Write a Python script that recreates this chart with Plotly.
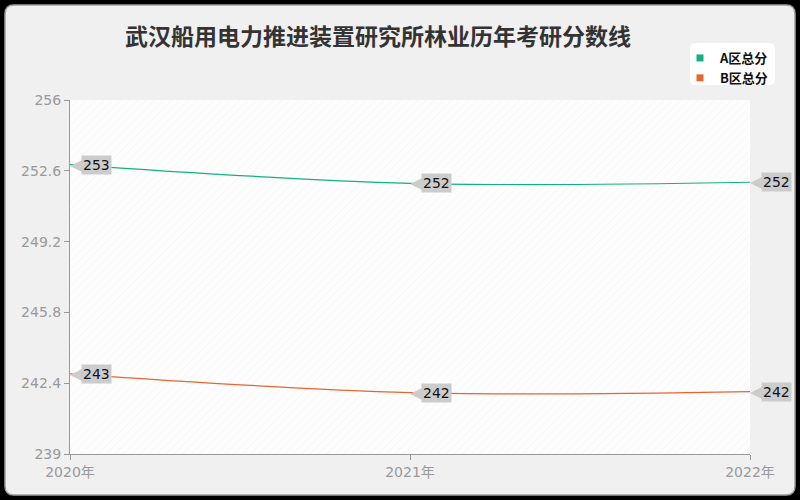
#!/usr/bin/env python3
# -*- coding: utf-8 -*-

import plotly.graph_objects as go

# ---------- data ----------
years = [2020, 2021, 2022]
year_labels = ["2020年", "2021年", "2022年"]
score_a = [252.9, 252.0, 252.05]
score_b = [242.85, 241.95, 242.0]
labels_a = ["253", "252", "252"]
labels_b = ["243", "242", "242"]
y_ticks = [239, 242.4, 245.8, 249.2, 252.6, 256]
y_tick_text = ["239", "242.4", "245.8", "249.2", "252.6", "256"]

title = "武汉船用电力推进装置研究所林业历年考研分数线"
name_a = "A区总分"
name_b = "B区总分"
color_a = "#13b083"
color_b = "#e5662e"

FONT = "Noto Sans CJK SC, Noto Sans, sans-serif"
TICK_FONT = "DejaVu Sans, Noto Sans CJK SC, sans-serif"
W, H = 800, 500
ML, MR, MT, MB = 70, 50, 100, 46
PW, PH = W - ML - MR, H - MT - MB
TAG = "#cccccc"


def px_x(p):
    return (p - ML) / PW


def px_y(p):
    return (H - MB - p) / PH


def rounded_rect(x0, y0, x1, y1, r):
    # pixel coords -> paper path with rounded corners
    rx, ry = r / PW, r / PH
    a, b, c, d = px_x(x0), px_y(y0), px_x(x1), px_y(y1)
    return (
        f"M{a + rx},{b} L{c - rx},{b} Q{c},{b} {c},{b - ry} "
        f"L{c},{d + ry} Q{c},{d} {c - rx},{d} "
        f"L{a + rx},{d} Q{a},{d} {a},{d + ry} "
        f"L{a},{b - ry} Q{a},{b} {a + rx},{b} Z"
    )


fig = go.Figure()

# hatched plot background
fig.add_trace(
    go.Scatter(
        x=[years[0], years[-1], years[-1], years[0]],
        y=[y_ticks[0], y_ticks[0], y_ticks[-1], y_ticks[-1]],
        fill="toself",
        mode="none",
        fillcolor="rgba(255,255,255,0)",
        fillpattern=dict(shape="/", fgcolor="#eeeeee", bgcolor="#fdfdfd", size=6, solidity=0.15),
        hoverinfo="skip",
        showlegend=False,
    )
)

for name, vals, labs, col in [(name_a, score_a, labels_a, color_a), (name_b, score_b, labels_b, color_b)]:
    fig.add_trace(
        go.Scatter(
            x=years,
            y=vals,
            mode="lines",
            name=name,
            line=dict(color=col, width=1.2, shape="spline", smoothing=1.0),
            hovertemplate="%{x}年<br>%{y}<extra></extra>",
            showlegend=False,
        )
    )
    # legend entry with square marker
    fig.add_trace(
        go.Scatter(
            x=[None],
            y=[None],
            mode="markers",
            name=f"<b>{name}</b>",
            marker=dict(symbol="square", size=7, color=col),
        )
    )
    for xv, yv, t in zip(years, vals, labs):
        # arrow tip of the tag
        fig.add_annotation(
            x=xv, y=yv, text="◀", showarrow=False,
            xanchor="left", yanchor="middle", xshift=-2, yshift=1,
            font=dict(family=TICK_FONT, size=19, color=TAG),
        )
        fig.add_annotation(
            x=xv, y=yv, text=t, showarrow=False,
            xanchor="left", yanchor="middle", xshift=11,
            bgcolor=TAG, borderpad=1,
            font=dict(family=TICK_FONT, size=14, color="#111111"),
        )

fig.add_shape(
    type="path", xref="paper", yref="paper",
    path=rounded_rect(5, 5, 795, 495, 9),
    fillcolor="#f0f0f0", line=dict(color="#a0a0a0", width=1.5), layer="below",
)
fig.add_shape(
    type="path", xref="paper", yref="paper",
    path=rounded_rect(690, 43, 775, 85, 6),
    fillcolor="#ffffff", line=dict(width=0), layer="below",
)

fig.update_layout(
    width=W,
    height=H,
    margin=dict(l=ML, r=MR, t=MT, b=MB),
    paper_bgcolor="#000000",
    plot_bgcolor="rgba(0,0,0,0)",
    font=dict(family=FONT, color="#999999"),
    title=dict(
        text=f"<b>{title}</b>", x=378 / W, xanchor="center", y=1 - 37 / H, yanchor="middle",
        font=dict(family=FONT, size=23, color="#333333"),
    ),
    showlegend=True,
    legend=dict(
        x=px_x(680), y=px_y(43), xanchor="left", yanchor="top",
        bgcolor="rgba(0,0,0,0)", font=dict(family=FONT, size=13, color="#111111"),
        itemwidth=30, tracegroupgap=0,
    ),
    xaxis=dict(
        range=[years[0], years[-1]], tickvals=years, ticktext=year_labels,
        showline=True, linecolor="#999999", linewidth=1,
        ticks="outside", ticklen=5, tickcolor="#999999",
        showgrid=True, gridcolor="#e3e3e3", griddash="dash",
        tickfont=dict(family=TICK_FONT, size=14, color="#999999"),
        zeroline=False, fixedrange=True,
    ),
    yaxis=dict(
        range=[y_ticks[0], y_ticks[-1]], tickvals=y_ticks, ticktext=y_tick_text,
        showline=True, linecolor="#999999", linewidth=1,
        ticks="outside", ticklen=5, tickcolor="#999999",
        showgrid=True, gridcolor="#e3e3e3", griddash="dash",
        tickfont=dict(family=TICK_FONT, size=14, color="#999999"),
        zeroline=False, fixedrange=True,
    ),
)

fig.write_html(
    "out.html",
    config={"displayModeBar": False},
    post_script="document.body.style.margin='0';",
)
